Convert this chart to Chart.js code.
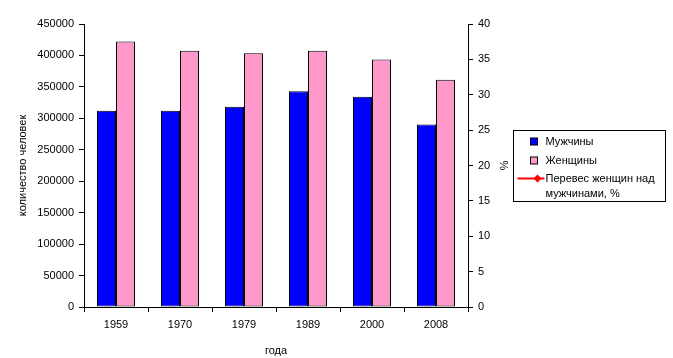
<!DOCTYPE html>
<html>
<head>
<meta charset="utf-8">
<script src="https://cdn.jsdelivr.net/npm/chart.js@4"></script>
<style>
  body { margin: 0; background: #fff; }
  #wrap { width: 673px; height: 358px; }
</style>
</head>
<body>
<div id="wrap"><canvas id="chart" width="673" height="358"></canvas></div>
<script>
const years = ["1959", "1970", "1979", "1989", "2000", "2008"];
const men = [312000, 312000, 318500, 343000, 334500, 290000];
const women = [422000, 407500, 403500, 407500, 393500, 361500];
const surplus = [null, null, null, null, null, null];

const font = { family: "'Liberation Sans', Arial, sans-serif", size: 11 };

// legend drawn as a box at the right, like the original
const boxLegend = {
    id: "boxLegend",
    afterDraw(chart) {
        const ctx = chart.ctx;
        const x = 513.5, y = 130.5, w = 152, h = 71;
        ctx.save();
        ctx.strokeStyle = "#000";
        ctx.lineWidth = 1;
        ctx.strokeRect(x, y, w, h);
        ctx.font = "11px 'Liberation Sans', Arial, sans-serif";
        ctx.fillStyle = "#000";
        ctx.textBaseline = "middle";
        const ds = chart.data.datasets;
        // bars
        [0, 1].forEach((i) => {
            const cy = y + 11 + i * 19;
            ctx.fillStyle = ds[i].backgroundColor;
            ctx.fillRect(x + 17, cy - 3.5, 7, 7);
            ctx.strokeStyle = "#000";
            ctx.strokeRect(x + 17, cy - 3.5, 7, 7);
            ctx.fillStyle = "#000";
            ctx.fillText(ds[i].label, x + 32, cy);
        });
        // line
        const ly = y + 48;
        ctx.strokeStyle = ds[2].borderColor;
        ctx.lineWidth = 2;
        ctx.beginPath();
        ctx.moveTo(x + 4, ly);
        ctx.lineTo(x + 31, ly);
        ctx.stroke();
        ctx.fillStyle = ds[2].borderColor;
        ctx.beginPath();
        ctx.moveTo(x + 24, ly - 4);
        ctx.lineTo(x + 28, ly);
        ctx.lineTo(x + 24, ly + 4);
        ctx.lineTo(x + 20, ly);
        ctx.closePath();
        ctx.fill();
        ctx.fillStyle = "#000";
        ctx.fillText("Перевес женщин над", x + 32, ly);
        ctx.fillText("мужчинами, %", x + 32, ly + 15);
        ctx.restore();
    }
};

new Chart(document.getElementById("chart"), {
    type: "bar",
    data: {
        labels: years,
        datasets: [
            {
                label: "Мужчины",
                data: men,
                backgroundColor: "#0000FF",
                borderColor: "#000",
                borderWidth: 1,
                borderSkipped: false,
                inflateAmount: 0,
                yAxisID: "y",
                categoryPercentage: 0.59375,
                barPercentage: 1,
                order: 2
            },
            {
                label: "Женщины",
                data: women,
                backgroundColor: "#FF99CC",
                borderColor: "#000",
                borderWidth: 1,
                borderSkipped: false,
                inflateAmount: 0,
                yAxisID: "y",
                categoryPercentage: 0.59375,
                barPercentage: 1,
                order: 2
            },
            {
                type: "line",
                label: "Перевес женщин над мужчинами, %",
                data: surplus,
                borderColor: "#FF0000",
                backgroundColor: "#FF0000",
                borderWidth: 2,
                pointStyle: "rectRot",
                pointRadius: 4,
                yAxisID: "y1",
                order: 1
            }
        ]
    },
    options: {
        responsive: false,
        animation: false,
        layout: { padding: { top: 24, right: 163, bottom: 0, left: 16 } },
        plugins: {
            legend: { display: false },
            tooltip: { enabled: false }
        },
        scales: {
            x: {
                grid: { drawOnChartArea: false, drawTicks: true, tickLength: 5, color: "#000", offset: true },
                border: { display: true, color: "#000" },
                ticks: { color: "#000", font: font, padding: 6, maxRotation: 0 },
                title: { display: true, text: "года", color: "#000", font: font, padding: { top: 5, bottom: 0 } },
                afterFit(scale) { scale.height = 51; }
            },
            y: {
                position: "left",
                min: 0,
                max: 450000,
                grid: { drawOnChartArea: false, drawTicks: true, tickLength: 5, color: "#000" },
                border: { display: true, color: "#000" },
                ticks: { stepSize: 50000, color: "#000", font: font, padding: 5, callback: (v) => String(v) },
                title: { display: true, text: "количество человек", color: "#000", font: font, padding: 0 },
                afterFit(scale) { scale.width = 68; }
            },
            y1: {
                position: "right",
                min: 0,
                max: 40,
                grid: { drawOnChartArea: false, drawTicks: true, tickLength: 5, color: "#000" },
                border: { display: true, color: "#000" },
                ticks: { stepSize: 5, color: "#000", font: font, padding: 5, callback: (v) => String(v) },
                title: { display: true, text: "%", color: "#000", font: font, padding: 0 },
                afterFit(scale) { scale.width = 42; }
            }
        }
    },
    plugins: [boxLegend]
});
</script>
</body>
</html>
